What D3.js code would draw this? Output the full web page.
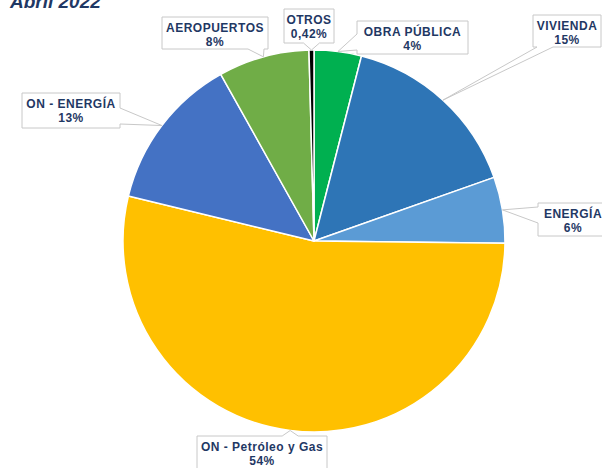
<!DOCTYPE html>
<html>
<head>
<meta charset="utf-8">
<script src="https://cdn.jsdelivr.net/npm/d3@7"></script>
<style>
  body { margin: 0; background: #fff; }
  svg { display: block; }
</style>
</head>
<body>
<div id="chart"></div>
<script>
// Data, clockwise from 12 o'clock.
const categories = ["OBRA  PÚBLICA", "VIVIENDA", "ENERGÍA", "ON - Petróleo y Gas", "ON - ENERGÍA", "AEROPUERTOS", "OTROS"]
const values = [4.0, 15.6, 5.6, 53.6, 13.1, 7.7, 0.42]
const percentLabels = ["4%", "15%", "6%", "54%", "13%", "8%", "0,42%"]
const title = "Abril 2022"

const colours = ["#00B050", "#2E75B6", "#5B9BD5", "#FFC000", "#4472C4", "#70AD47", "#000000"]

const width = 602
const height = 468
const cx = 314
const cy = 241
const radius = 191
const textColour = "#1F3864"

// Callout boxes [x, y, w, h], same order as categories.
const boxes = [
  [357, 21, 111, 33],
  [533, 15, 68, 32],
  [538, 203, 70, 33],
  [197, 436, 130, 36],
  [22, 93, 98, 35],
  [162, 17, 106, 32],
  [284, 9, 50, 34]
]

/**
 * Builds a rectangle path with a wedge pointing at the tip.
 * @param box
 * @param tip
 * @returns {string}
 */
const _calloutPath = (box, tip) => {
  const [x, y, w, h] = box
  const [tx, ty] = tip
  const hw = 8
  const inset = 4
  const clamp = (v, a, b) => Math.max(a, Math.min(b, v))
  let side
  if (ty > y + h) side = "bottom"
  else if (ty < y) side = "top"
  else if (tx < x) side = "left"
  else side = "right"
  // Prefer the side facing the tip when it is mostly sideways.
  if ((side === "bottom" || side === "top") && (tx < x - 10 || tx > x + w + 10)) {
    const dy = side === "bottom" ? ty - (y + h) : y - ty
    const dx = tx < x ? x - tx : tx - (x + w)
    if (dx > dy * 2) side = tx < x ? "left" : "right"
  }
  const p = d3.path()
  p.moveTo(x, y)
  if (side === "top") {
    const m = clamp(tx, x + inset + hw, x + w - inset - hw)
    p.lineTo(m - hw, y); p.lineTo(tx, ty); p.lineTo(m + hw, y)
  }
  p.lineTo(x + w, y)
  if (side === "right") {
    const m = clamp(ty, y + inset + hw, y + h - inset - hw)
    p.lineTo(x + w, m - hw); p.lineTo(tx, ty); p.lineTo(x + w, m + hw)
  }
  p.lineTo(x + w, y + h)
  if (side === "bottom") {
    const m = clamp(tx, x + inset + hw, x + w - inset - hw)
    p.lineTo(m + hw, y + h); p.lineTo(tx, ty); p.lineTo(m - hw, y + h)
  }
  p.lineTo(x, y + h)
  if (side === "left") {
    const m = clamp(ty, y + inset + hw, y + h - inset - hw)
    p.lineTo(x, m + hw); p.lineTo(tx, ty); p.lineTo(x, m - hw)
  }
  p.closePath()
  return p.toString()
}

const svg = d3.select("#chart")
  .append("svg")
  .attr("width", width)
  .attr("height", height)

// Title, partly cut off at the top as in the source.
svg.append("text")
  .attr("x", 10)
  .attr("y", 8)
  .attr("font-family", "Liberation Sans, Arial, sans-serif")
  .attr("font-size", 19)
  .attr("font-weight", "bold")
  .attr("font-style", "italic")
  .attr("fill", textColour)
  .text(title)

const pie = d3.pie().sort(null).value(d => d)
const arcs = pie(values)
const arc = d3.arc().innerRadius(0).outerRadius(radius)
const edgeArc = d3.arc().innerRadius(radius).outerRadius(radius)

const pieGroup = svg.append("g")
  .attr("transform", "translate(" + cx + "," + cy + ")")

pieGroup.selectAll("path")
  .data(arcs)
  .join("path")
  .attr("d", arc)
  .attr("fill", (d, i) => colours[i])
  .attr("stroke", "#fff")
  .attr("stroke-width", 1.5)
  .attr("stroke-linejoin", "round")

// Callouts.
const labels = svg.append("g")
arcs.forEach((d, i) => {
  const c = edgeArc.centroid(d)
  const tip = [cx + c[0], cy + c[1]]
  const box = boxes[i]
  const g = labels.append("g")
  g.append("path")
    .attr("d", _calloutPath(box, tip))
    .attr("fill", "#fff")
    .attr("stroke", "#C8C8C8")
    .attr("stroke-width", 1)
  const text = g.append("text")
    .attr("text-anchor", "middle")
    .attr("font-family", "Liberation Sans, Arial, sans-serif")
    .attr("font-size", 12)
    .attr("font-weight", "bold")
    .attr("letter-spacing", 0.5)
    .attr("fill", textColour)
  text.append("tspan")
    .attr("x", box[0] + box[2] / 2)
    .attr("y", box[1] + 15)
    .text(categories[i])
  text.append("tspan")
    .attr("x", box[0] + box[2] / 2)
    .attr("y", box[1] + 29)
    .text(percentLabels[i])
})
</script>
</body>
</html>
